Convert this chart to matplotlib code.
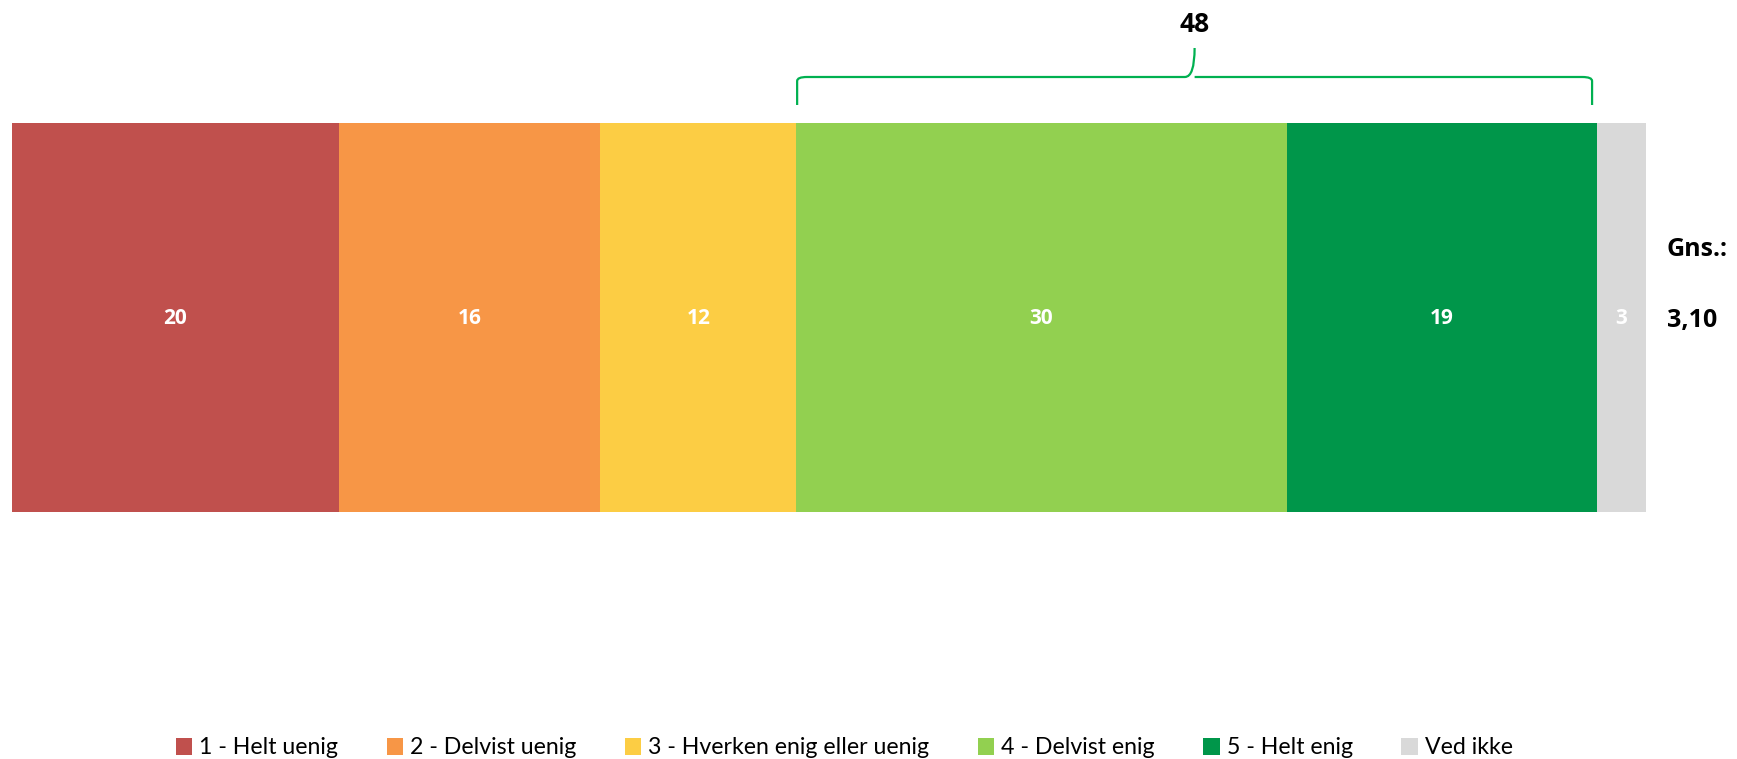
import matplotlib.pyplot as plt
from matplotlib.path import Path
from matplotlib.patches import PathPatch, Patch
import numpy as np

plt.rcParams['font.family'] = ['Lato', 'DejaVu Sans']

categories = ['1 - Helt uenig', '2 - Delvist uenig', '3 - Hverken enig eller uenig',
              '4 - Delvist enig', '5 - Helt enig', 'Ved ikke']
values = [20, 16, 12, 30, 19, 3]
colors = ['#C0504D', '#F79646', '#FCCD44', '#92D050', '#00964A', '#D9D9D9']
agree_total = 48
mean_label = '3,10'

bold = dict(family=['Open Sans', 'DejaVu Sans'], fontweight='bold')

fig = plt.figure(figsize=(17.37, 7.59), dpi=100)
ax = fig.add_axes([0, 0, 1, 1])
# x in percent units, y in pixels from top
px_per = 16.34
ax.set_xlim(-12 / px_per, (1737 - 12) / px_per)
ax.set_ylim(759, 0)
ax.axis('off')

left = 0
for v, c in zip(values, colors):
    ax.barh(317.5, v, left=left, height=389, color=c, edgecolor='none')
    ax.text(left + v / 2, 318, str(v), ha='center', va='center',
            color='white', fontsize=15, **bold)
    left += v

# brace over the agree segments (4 and 5)
x0 = sum(values[:3]) + 0.05
x1 = sum(values[:5]) - 0.3
xm = (x0 + x1) / 2
yb, yh, yt = 105, 77, 48
r = 0.6
verts = [(x0, yb), (x0, yh + 4), (x0, yh), (x0 + r, yh),
         (xm - r, yh), (xm, yh), (xm, yt),
         (xm, yh), (xm + r, yh),
         (x1 - r, yh), (x1, yh), (x1, yh + 4), (x1, yb)]
codes = [Path.MOVETO, Path.LINETO, Path.CURVE3, Path.CURVE3,
         Path.LINETO, Path.CURVE3, Path.CURVE3,
         Path.MOVETO, Path.CURVE3,
         Path.LINETO, Path.CURVE3, Path.CURVE3, Path.LINETO]
ax.add_patch(PathPatch(Path(verts, codes), fill=False, edgecolor='#00B050', lw=1.6))
ax.text(xm, 24, str(agree_total), ha='center', va='center',
        fontsize=19, color='black', **bold)

# mean
ax.text((1667 - 12) / px_per, 250, 'Gns.:', ha='left', va='center',
        fontsize=18, **bold)
ax.text((1667 - 12) / px_per, 320, mean_label, ha='left', va='center',
        fontsize=18, **bold)

handles = [Patch(facecolor=c, edgecolor='none', label=l) for c, l in zip(colors, categories)]
fig.legend(handles=handles, loc='center', bbox_to_anchor=(0.486, 1 - 748 / 759), ncol=6,
           frameon=False, fontsize=16.7, handlelength=0.7, handleheight=0.7,
           handletextpad=0.3, columnspacing=2.1)

fig.savefig('out.png', dpi=100)
